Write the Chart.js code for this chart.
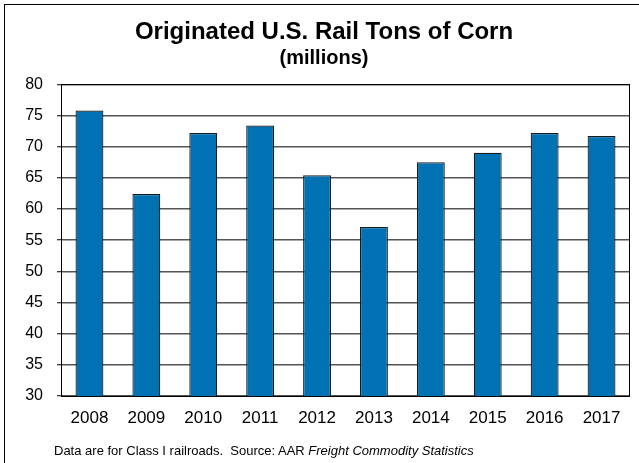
<!DOCTYPE html>
<html>
<head>
<meta charset="utf-8">
<script src="https://cdn.jsdelivr.net/npm/chart.js@4/dist/chart.umd.min.js"></script>
<style>
  html, body { margin: 0; padding: 0; background: #fff; }
  #wrap { position: relative; width: 639px; height: 463px; overflow: hidden; }
  #frame { position: absolute; left: 4px; top: 4px; width: 700px; height: 500px;
           border-left: 1px solid #000; border-top: 1px solid #000; }
  #chart { position: absolute; left: 0; top: 0; }
  #note { position: absolute; left: 54px; top: 443px; font: 13px "Liberation Sans", Arial, sans-serif; color: #000; white-space: pre; }
</style>
</head>
<body>
<div id="wrap">
  <div id="frame"></div>
  <canvas id="chart" width="639" height="463"></canvas>
  <div id="note">Data are for Class I railroads.  Source: AAR <i>Freight Commodity Statistics</i></div>
</div>
<script>
// Originated rail tons of corn, millions
const years = ['2008', '2009', '2010', '2011', '2012', '2013', '2014', '2015', '2016', '2017'];
const tons = [75.8, 62.4, 72.2, 73.4, 65.4, 57.1, 67.5, 69.0, 72.2, 71.7];
const yTicks = [30, 35, 40, 45, 50, 55, 60, 65, 70, 75, 80];

const fontFamily = '"Liberation Sans", Arial, sans-serif';

// black box round the plot area
const plotBorder = {
  id: 'plotBorder',
  afterDatasetsDraw(chart) {
    const a = chart.chartArea;
    const c = chart.ctx;
    c.save();
    c.strokeStyle = '#000';
    c.lineWidth = 1;
    c.strokeRect(Math.round(a.left) + 0.5, Math.round(a.top) + 0.5,
      Math.round(a.right - a.left) - 1, Math.round(a.bottom - a.top));
    c.restore();
  }
};

const ctx = document.getElementById('chart').getContext('2d');
const chart = new Chart(ctx, {
  type: 'bar',
  data: {
    labels: years,
    datasets: [{
      data: tons,
      backgroundColor: '#0071B3',
      borderColor: '#1a1a1a',
      borderWidth: 1.2,
      borderSkipped: 'bottom',
      categoryPercentage: 1,
      barPercentage: 0.49
    }]
  },
  options: {
    responsive: false,
    animation: false,
    layout: { padding: { left: 18, right: 9, top: 0, bottom: 0 } },
    plugins: {
      legend: { display: false },
      tooltip: { enabled: false },
      title: {
        display: true,
        text: 'Originated U.S. Rail Tons of Corn',
        color: '#000',
        font: { family: fontFamily, size: 24, weight: 'bold' },
        padding: { top: 18, bottom: 0 }
      },
      subtitle: {
        display: true,
        text: '(millions)',
        color: '#000',
        font: { family: fontFamily, size: 20, weight: 'bold' },
        padding: { top: 0, bottom: 13.5 }
      }
    },
    scales: {
      x: {
        grid: { display: false, drawTicks: false },
        border: { display: false },
        ticks: { color: '#000', font: { family: fontFamily, size: 17 }, padding: 12, maxRotation: 0 },
        afterFit(scale) { scale.height = 67; }
      },
      y: {
        min: 30,
        max: 80,
        afterBuildTicks(scale) { scale.ticks = yTicks.map(v => ({ value: v })); },
        grid: { color: '#555', lineWidth: 1.5, drawTicks: true, tickLength: 4, tickColor: '#000', tickWidth: 1 },
        border: { display: false },
        ticks: { color: '#000', font: { family: fontFamily, size: 16 }, padding: 14 },
        afterFit(scale) { scale.width = 43; }
      }
    }
  },
  plugins: [plotBorder]
});
</script>
</body>
</html>
